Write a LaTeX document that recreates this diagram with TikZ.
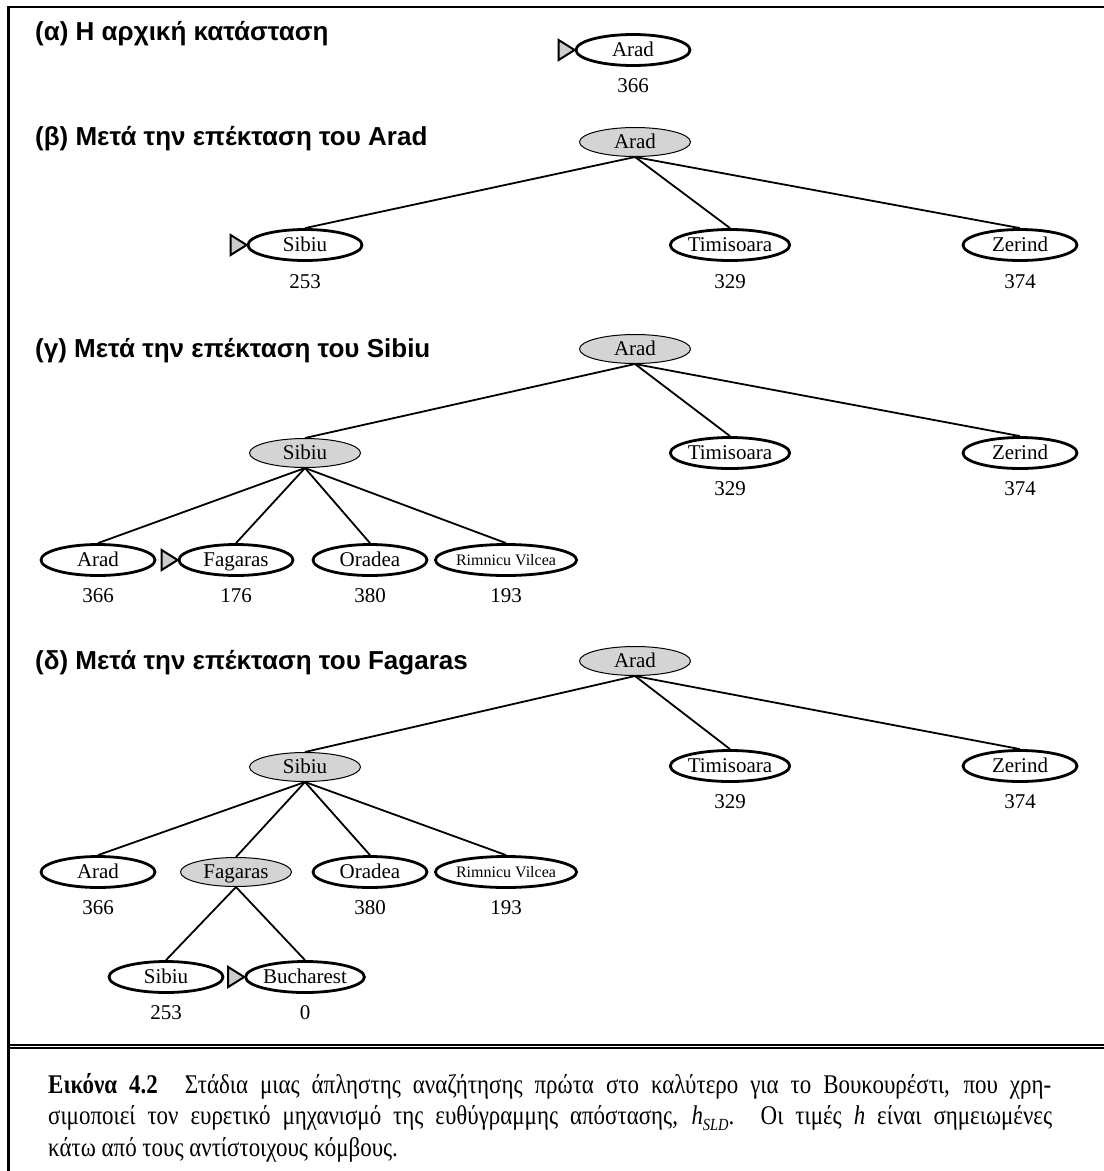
\documentclass[tikz,border=0pt]{standalone}
\usepackage{fontspec}
\setmainfont{Liberation Serif}
\newfontfamily\headfont{Liberation Sans}
\newfontfamily\capfont[FakeStretch=0.85]{Liberation Serif}
\usetikzlibrary{shapes.geometric}

\definecolor{nodegray}{gray}{0.83}
\definecolor{markgray}{gray}{0.80}

\tikzset{
  city/.style={ellipse, draw, line width=2.8pt, minimum width=114pt,
    minimum height=31pt, inner sep=0pt, text height=14pt, text depth=1pt,
    font=\fontsize{21}{23}\selectfont},
  expanded/.style={city, fill=nodegray, line width=1pt, minimum width=111pt,
    minimum height=29pt},
  small/.style={font=\fontsize{16}{18}\selectfont, text height=12pt},
  hval/.style={inner sep=0pt, font=\fontsize{21}{23}\selectfont},
  edge/.style={line width=1.8pt},
  marker/.style={draw, line width=2pt, fill=markgray, line join=miter},
  head/.style={anchor=west, inner sep=0pt,
    font=\headfont\bfseries\fontsize{26}{30}\selectfont},
  capline/.style={anchor=base west, inner sep=0pt,
    font=\capfont\fontsize{27}{31}\selectfont},
  frame/.style={line width=2.5pt}
}

% start-of-search marker drawn just left of a node
\newcommand\startmark[1]{%
  \draw[marker] (#1.west) -- ++(-16,-10) -- ++(0,20) -- cycle;}

\begin{document}
\begin{tikzpicture}[x=1pt,y=-1pt]
\useasboundingbox (0,0) rectangle (1104,1171);

% frame
\draw[frame] (8.5,1171) -- (8.5,7) -- (1104,7);
\draw[line width=2pt] (10,1044.7) -- (1104,1044.7);
\draw[line width=2pt] (10,1048.4) -- (1104,1048.4);

% (a)
\node[head] (ta) at (35,34) {(α) Η αρχική κατάσταση};
\node[city] (a0) at (633,50) {Arad};
\node[hval] (a0h) at (633,86) {366};
\startmark{a0}

% (b)
\node[head] (tb) at (35,139) {(β) Μετά την επέκταση του Arad};
\node[expanded] (b0) at (635,142) {Arad};
\node[city] (b1) at (305,245) {Sibiu};
\node[city] (b2) at (730,245) {Timisoara};
\node[city] (b3) at (1020,245) {Zerind};
\node[hval] (b1h) at (305,282) {253};
\node[hval] (b2h) at (730,282) {329};
\node[hval] (b3h) at (1020,282) {374};
\foreach \c in {b1,b2,b3} \draw[edge] (b0.south) -- (\c.north);
\startmark{b1}

% (c)
\node[head] (tc) at (35,351) {(γ) Μετά την επέκταση του Sibiu};
\node[expanded] (c0) at (635,349) {Arad};
\node[expanded] (c1) at (305,453) {Sibiu};
\node[city] (c2) at (730,453) {Timisoara};
\node[city] (c3) at (1020,453) {Zerind};
\node[hval] (c2h) at (730,489) {329};
\node[hval] (c3h) at (1020,489) {374};
\node[city] (c11) at (98,560) {Arad};
\node[city] (c12) at (236,560) {Fagaras};
\node[city] (c13) at (370,560) {Oradea};
\node[city, small] (c14) at (506,560) {Rimnicu Vilcea};
\node[hval] (c11h) at (98,596) {366};
\node[hval] (c12h) at (236,596) {176};
\node[hval] (c13h) at (370,596) {380};
\node[hval] (c14h) at (506,596) {193};
\foreach \c in {c1,c2,c3} \draw[edge] (c0.south) -- (\c.north);
\foreach \c in {c11,c12,c13,c14} \draw[edge] (c1.south) -- (\c.north);
\startmark{c12}

% (d)
\node[head] (td) at (35,663) {(δ) Μετά την επέκταση του Fagaras};
\node[expanded] (d0) at (635,661) {Arad};
\node[expanded] (d1) at (305,767) {Sibiu};
\node[city] (d2) at (730,766) {Timisoara};
\node[city] (d3) at (1020,766) {Zerind};
\node[hval] (d2h) at (730,802) {329};
\node[hval] (d3h) at (1020,802) {374};
\node[city] (d11) at (98,872) {Arad};
\node[expanded] (d12) at (236,872) {Fagaras};
\node[city] (d13) at (370,872) {Oradea};
\node[city, small] (d14) at (506,872) {Rimnicu Vilcea};
\node[hval] (d11h) at (98,908) {366};
\node[hval] (d13h) at (370,908) {380};
\node[hval] (d14h) at (506,908) {193};
\node[city] (d121) at (166,977) {Sibiu};
\node[city] (d122) at (305,977) {Bucharest};
\node[hval] (d121h) at (166,1013) {253};
\node[hval] (d122h) at (305,1013) {0};
\foreach \c in {d1,d2,d3} \draw[edge] (d0.south) -- (\c.north);
\foreach \c in {d11,d12,d13,d14} \draw[edge] (d1.south) -- (\c.north);
\foreach \c in {d121,d122} \draw[edge] (d12.south) -- (\c.north);
\startmark{d122}

% caption
\node[capline] (cap1) at (48,1093) {\makebox[1003pt][s]{\textbf{Εικόνα 4.2}\quad Στάδια μιας άπληστης αναζήτησης πρώτα στο καλύτερο για το Βουκουρέστι, που χρη-}};
\node[capline] (cap2) at (48,1124) {\makebox[1004pt][s]{σιμοποιεί τον ευρετικό μηχανισμό της ευθύγραμμης απόστασης, \textit{h}\raisebox{-0.25em}{\fontsize{17}{18}\selectfont\itshape SLD}. Οι τιμές \textit{h} είναι σημειωμένες}};
\node[capline] (cap3) at (48,1156) {κάτω από τους αντίστοιχους κόμβους.};
\end{tikzpicture}
\end{document}
